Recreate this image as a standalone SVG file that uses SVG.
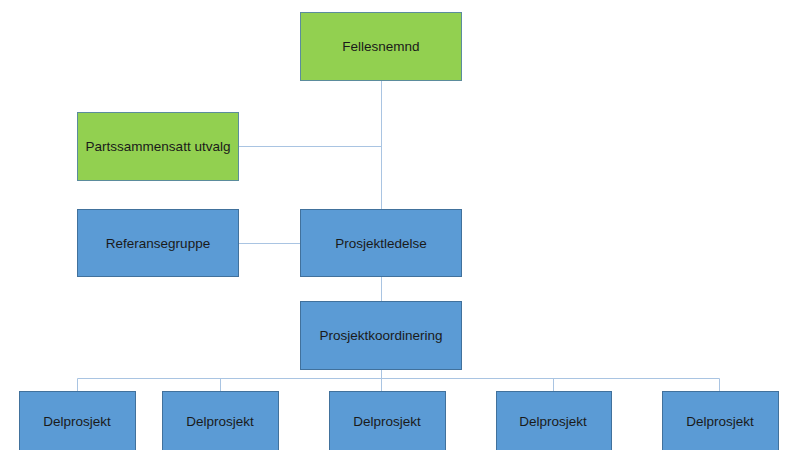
<svg xmlns="http://www.w3.org/2000/svg" width="800" height="450" viewBox="0 0 800 450">
<style>
.g{fill:#92D050;stroke:#5B8C9C;stroke-width:1}
.b{fill:#5B9BD5;stroke:#41719C;stroke-width:1}
.t{font-family:"Liberation Sans",Arial,sans-serif;font-size:13.5px;fill:#1a1a1a;text-anchor:middle;dominant-baseline:central}
.c{stroke:#A9C4E2;stroke-width:1;fill:none}
</style>
<rect width="800" height="450" fill="#fff"/>
<g id="connectors">
<path class="c" d="M381.5 80V209M239 146.5H381.5M239 243.5H300M381.5 276V301M381.5 369V378.5M77.5 378.5H719.5M77.5 378.5V391M220.5 378.5V391M381.5 378.5V391M553.5 378.5V391M719.5 378.5V391"/>
</g>
<g id="fellesnemnd"><rect class="g" x="300.5" y="12.5" width="161" height="68"/><text class="t" x="381" y="46">Fellesnemnd</text></g>
<g id="partssammensatt"><rect class="g" x="77.5" y="112.5" width="161" height="68"/><text class="t" x="158" y="146">Partssammensatt utvalg</text></g>
<g id="referansegruppe"><rect class="b" x="77.5" y="209.5" width="161" height="67"/><text class="t" x="158" y="243">Referansegruppe</text></g>
<g id="prosjektledelse"><rect class="b" x="300.5" y="209.5" width="161" height="67"/><text class="t" x="381" y="243">Prosjektledelse</text></g>
<g id="prosjektkoordinering"><rect class="b" x="300.5" y="301.5" width="161" height="68"/><text class="t" x="381" y="335">Prosjektkoordinering</text></g>
<g id="delprosjekt1"><rect class="b" x="19.5" y="391.5" width="116" height="62"/><text class="t" x="77" y="421">Delprosjekt</text></g>
<g id="delprosjekt2"><rect class="b" x="162.5" y="391.5" width="116" height="62"/><text class="t" x="220" y="421">Delprosjekt</text></g>
<g id="delprosjekt3"><rect class="b" x="329.5" y="391.5" width="116" height="62"/><text class="t" x="387" y="421">Delprosjekt</text></g>
<g id="delprosjekt4"><rect class="b" x="496.5" y="391.5" width="115" height="62"/><text class="t" x="553" y="421">Delprosjekt</text></g>
<g id="delprosjekt5"><rect class="b" x="662.5" y="391.5" width="116" height="62"/><text class="t" x="720" y="421">Delprosjekt</text></g>
</svg>
